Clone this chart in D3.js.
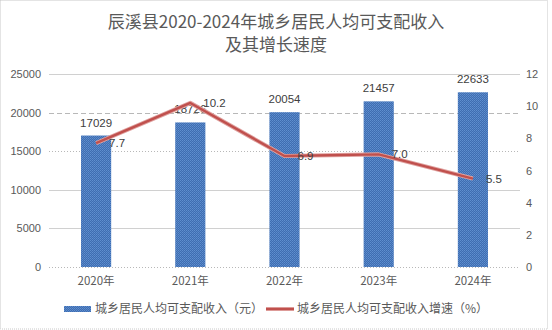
<!DOCTYPE html>
<html>
<head>
<meta charset="utf-8">
<script src="https://cdn.jsdelivr.net/npm/d3@7"></script>
<style>
  html, body { margin: 0; padding: 0; background: #fff; }
  svg { display: block; }
  text { font-family: "Noto Sans CJK SC", "Noto Sans", sans-serif; }
</style>
</head>
<body>
<svg id="chart" width="552" height="330"></svg>
<script>
// Data
const years = ["2020年", "2021年", "2022年", "2023年", "2024年"];
const income = [17029, 18726, 20054, 21457, 22633];
const growth = [7.7, 10.2, 6.9, 7.0, 5.5];
const leftTicks = [0, 5000, 10000, 15000, 20000, 25000];
const rightTicks = [0, 2, 4, 6, 8, 10, 12];
const titleLines = ["辰溪县2020-2024年城乡居民人均可支配收入", "及其增长速度"];
const seriesNames = ["城乡居民人均可支配收入（元）", "城乡居民人均可支配收入增速（%）"];

const svg = d3.select("#chart");
const W = 552, H = 330;
const plot = { left: 49, right: 520, top: 74, bottom: 267 };

// Outer chart frame
svg.append("rect")
  .attr("x", 0.5).attr("y", 0.5).attr("width", 547).attr("height", 328.5)
  .attr("fill", "#fff").attr("stroke", "#c8c8c8").attr("stroke-dasharray", "1,1");

// Bar texture
const defs = svg.append("defs");
const pat = defs.append("pattern").attr("id", "barTex")
  .attr("width", 2).attr("height", 2).attr("patternUnits", "userSpaceOnUse");
pat.append("rect").attr("width", 2).attr("height", 2).attr("fill", "#3f6db1");
pat.append("rect").attr("width", 1).attr("height", 1).attr("fill", "#5f8fcf");
pat.append("rect").attr("x", 1).attr("y", 1).attr("width", 1).attr("height", 1).attr("fill", "#5585c6");

// Title
svg.append("g").selectAll("text").data(titleLines).join("text")
  .attr("x", 276).attr("y", (d, i) => 28 + i * 23)
  .attr("text-anchor", "middle")
  .attr("font-size", 17).attr("fill", "#595959")
  .text(d => d);

// Scales
const x = d3.scaleBand().domain(years).range([plot.left, plot.right]).paddingInner(0.68).paddingOuter(0.34);
const yL = d3.scaleLinear().domain([0, 25000]).range([plot.bottom, plot.top]);
const yR = d3.scaleLinear().domain([0, 12]).range([plot.bottom, plot.top]);

// Gridlines (mixed styles per level)
const gridStyle = {0: "1,2", 5000: null, 10000: null, 15000: "1,2", 20000: "5,3", 25000: null};
svg.append("g").selectAll("line").data(leftTicks).join("line")
  .attr("x1", plot.left).attr("x2", plot.right)
  .attr("y1", d => Math.round(yL(d)) + 0.5).attr("y2", d => Math.round(yL(d)) + 0.5)
  .attr("stroke", d => gridStyle[d] ? "#b8b8b8" : "#d0d0d0")
  .attr("stroke-width", 1)
  .attr("stroke-dasharray", d => gridStyle[d]);

// Left axis
const axL = svg.append("g").attr("transform", `translate(${plot.left - 8},0)`)
  .call(d3.axisLeft(yL).tickValues(leftTicks).tickSize(0).tickPadding(0).tickFormat(d3.format("d")));
axL.select(".domain").remove();
axL.selectAll("text").attr("font-size", 11).attr("fill", "#595959")
  .style("font-family", "'Liberation Sans', 'Noto Sans', sans-serif");

// Right axis
const axR = svg.append("g").attr("transform", `translate(${plot.right + 6},0)`)
  .call(d3.axisRight(yR).tickValues(rightTicks).tickSize(0).tickPadding(0));
axR.select(".domain").remove();
axR.selectAll("text").attr("font-size", 11).attr("fill", "#595959")
  .style("font-family", "'Liberation Sans', 'Noto Sans', sans-serif");

// Bottom axis labels
const axB = svg.append("g").attr("transform", `translate(0,${plot.bottom + 8})`)
  .call(d3.axisBottom(x).tickSize(0).tickPadding(0));
axB.select(".domain").remove();
axB.selectAll("text").attr("font-size", 11.5).attr("fill", "#595959").attr("dy", "0.85em");

// Bars
svg.append("g").selectAll("rect").data(income).join("rect")
  .attr("x", (d, i) => x(years[i]))
  .attr("width", x.bandwidth())
  .attr("y", d => yL(d))
  .attr("height", d => yL(0) - yL(d))
  .attr("fill", "url(#barTex)");

// Bar value labels
svg.append("g").selectAll("text").data(income).join("text")
  .attr("x", (d, i) => x(years[i]) + x.bandwidth() / 2)
  .attr("y", d => yL(d) - 9)
  .attr("text-anchor", "middle")
  .attr("font-size", 11.5).attr("fill", "#404040")
  .style("font-family", "'Liberation Sans', 'Noto Sans', sans-serif")
  .text(d => d);

// Growth line
const line = d3.line()
  .x((d, i) => x(years[i]) + x.bandwidth() / 2)
  .y(d => yR(d));
svg.append("path").datum(growth).attr("d", line)
  .attr("fill", "none").attr("stroke", "#e0a3a1").attr("stroke-width", 4.2).attr("stroke-linejoin", "round");
svg.append("path").datum(growth).attr("d", line)
  .attr("fill", "none").attr("stroke", "#c0504d").attr("stroke-width", 2.4).attr("stroke-linejoin", "round");

// Growth value labels
svg.append("g").selectAll("text").data(growth).join("text")
  .attr("x", (d, i) => x(years[i]) + x.bandwidth() / 2 + 13)
  .attr("y", d => yR(d))
  .attr("dy", "0.35em")
  .attr("font-size", 11.5).attr("fill", "#404040")
  .style("font-family", "'Liberation Sans', 'Noto Sans', sans-serif")
  .text(d => d.toFixed(1));

// Legend
const lg = svg.append("g");
lg.append("rect").attr("x", 64).attr("y", 306).attr("width", 27).attr("height", 6).attr("fill", "url(#barTex)");
lg.append("text").attr("x", 95).attr("y", 309).attr("dy", "0.35em")
  .attr("font-size", 12).attr("fill", "#595959").text(seriesNames[0]);
lg.append("line").attr("x1", 266).attr("x2", 294).attr("y1", 309).attr("y2", 309)
  .attr("stroke", "#e0a3a1").attr("stroke-width", 4);
lg.append("line").attr("x1", 266).attr("x2", 294).attr("y1", 309).attr("y2", 309)
  .attr("stroke", "#c0504d").attr("stroke-width", 2.2);
lg.append("text").attr("x", 297).attr("y", 309).attr("dy", "0.35em")
  .attr("font-size", 12).attr("fill", "#595959").text(seriesNames[1]);
</script>
</body>
</html>
